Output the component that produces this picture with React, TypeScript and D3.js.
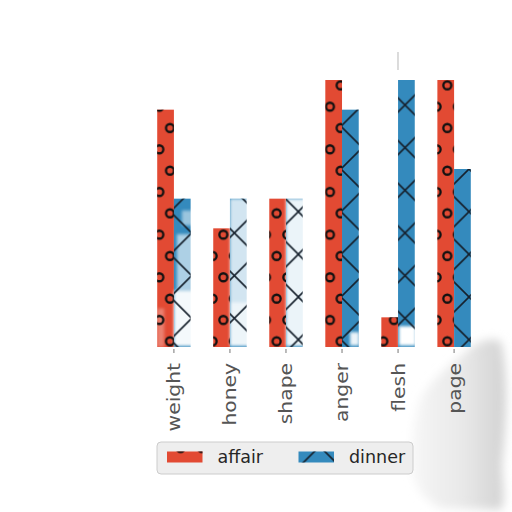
import React from "react";
import * as d3 from "d3";

const categories = ["weight", "honey", "shape", "anger", "flesh", "page"];
const seriesNames = ["affair", "dinner"];
const affairValues = [8, 4, 5, 9, 1, 9];
const dinnerValues = [5, 5, 5, 8, 9, 6];
const seriesColors = ["#E24A33", "#348ABD"];
const seriesHatch = ["hatchO", "hatchX"];

const W = 512;
const H = 512;

export default function App() {
  const x = d3.scaleBand<string>().domain(categories).range([146, 482]).paddingInner(0.4036).paddingOuter(0.2);
  const inner = d3.scaleBand<string>().domain(seriesNames).range([0, x.bandwidth()]);
  const y = d3.scaleLinear().domain([0, 9]).range([347, 80]);
  const values = [affairValues, dinnerValues];
  const unit = 21.33;

  const bars = seriesNames.flatMap((s, si) =>
    categories.map((c, ci) => ({
      key: `${s}-${c}`,
      x: (x(c) as number) + (inner(s) as number),
      w: inner.bandwidth(),
      y: y(values[si][ci]),
      h: y(0) - y(values[si][ci]),
      color: seriesColors[si],
      hatch: seriesHatch[si],
    }))
  );

  const bx = (c: string, s: string) => (x(c) as number) + (inner(s) as number);
  const bw = inner.bandwidth();

  return (
    <svg width={W} height={H} style={{ position: "absolute", left: 0, top: 0, background: "#fff" }}>
      <defs>
        <pattern id="hatchO" patternUnits="userSpaceOnUse" x={170 - unit / 4} y={128 - unit / 2} width={unit} height={unit * 2}>
          <circle cx={unit / 4} cy={unit / 2} r={4} fill="none" stroke="#111" strokeWidth={2.3} />
          <circle cx={unit * 0.75} cy={unit * 1.5} r={4} fill="none" stroke="#111" strokeWidth={2.3} />
        </pattern>
        <pattern id="hatchX" patternUnits="userSpaceOnUse" x={405 - unit} y={105 - unit} width={unit * 2} height={unit * 2}>
          <path d={`M-2,-2L${unit * 2 + 2},${unit * 2 + 2}M-2,${unit * 2 + 2}L${unit * 2 + 2},-2`} stroke="#15202c" strokeWidth={1.6} />
        </pattern>
        <filter id="blur2" x="-50%" y="-50%" width="200%" height="200%">
          <feGaussianBlur stdDeviation={1.5} />
        </filter>
        <filter id="blur8" x="-50%" y="-50%" width="200%" height="200%">
          <feGaussianBlur stdDeviation={5} />
        </filter>
        <linearGradient id="smudge" x1="0" x2="1" y1="0" y2="0">
          <stop offset="0" stopColor="#f7f7f7" />
          <stop offset="0.55" stopColor="#e8e8e8" />
          <stop offset="1" stopColor="#d2d2d2" />
        </linearGradient>
      </defs>

      {/* gray smudge right */}
      <path
        d="M468,350 C478,340 494,337 501,342 C508,370 507,420 502,465 C503,490 506,505 500,510 L440,508 C425,500 414,488 412,470 C410,440 414,420 420,400 C430,380 450,365 468,350 Z"
        fill="url(#smudge)"
        filter="url(#blur8)"
      />

      {/* bar fills */}
      {bars.map((b) => (
        <rect key={b.key + "f"} x={b.x} y={b.y} width={b.w} height={b.h} fill={b.color} />
      ))}

      {/* faded regions */}
      <g filter="url(#blur2)" fill="#fff">
        <rect x={bx("weight", "dinner")} y={y(1.9)} width={bw + 3} height={y(0) - y(1.9) - 1} opacity={0.95} />
        <rect x={bx("weight", "dinner") + 3} y={y(3.8)} width={bw} height={y(1.9) - y(3.8)} opacity={0.6} />
        <rect x={bx("weight", "dinner") + 8} y={y(4.6)} width={bw - 6} height={y(4.1) - y(4.6)} opacity={0.5} />
        <rect x={bx("honey", "dinner")} y={y(5)} width={bw + 3} height={y(0) - y(5) - 1} opacity={0.78} />
        <rect x={bx("honey", "dinner")} y={y(1.5)} width={bw + 3} height={y(0) - y(1.5) - 1} opacity={0.6} />
        <rect x={bx("shape", "dinner")} y={y(5)} width={bw + 3} height={y(0) - y(5) - 1} opacity={0.9} />
        <rect x={bx("flesh", "dinner") + 1} y={y(0.7)} width={bw} height={y(0) - y(0.7) - 1.5} opacity={1} />
        <rect x={bx("weight", "affair")} y={y(1.3)} width={7} height={y(0) - y(1.3)} opacity={0.3} />
        <rect x={bx("anger", "dinner") + 8} y={y(0.5)} width={9} height={y(0) - y(0.5) - 1.5} opacity={0.9} />
      </g>

      {/* hatch overlays */}
      {bars.map((b) => (
        <rect key={b.key + "h"} x={b.x} y={b.y} width={b.w} height={b.h} fill={`url(#${b.hatch})`} />
      ))}

      <line x1={398} x2={398} y1={52} y2={70} stroke="#c4c4c4" strokeWidth={1.2} />

      {/* ticks and labels */}
      {categories.map((c) => {
        const cx = (x(c) as number) + x.bandwidth() / 2;
        return (
          <g key={c}>
            <line x1={cx} x2={cx} y1={349} y2={353} stroke="#777" strokeWidth={1} />
            <text
              transform={`translate(${cx},363) scale(1,1.16) rotate(-90)`}
              textAnchor="end"
              dominantBaseline="central"
              fontFamily="DejaVu Sans"
              fontSize={17.5}
              fill="#555"
            >
              {c}
            </text>
          </g>
        );
      })}

      {/* legend */}
      <g>
        <rect x={157} y={442} width={256} height={32} rx={4} fill="#eeeeee" stroke="#cccccc" strokeWidth={1} />
        {seriesNames.map((s, i) => {
          const px = i === 0 ? 167 : 298.5;
          return (
            <g key={s}>
              <rect x={px} y={451.5} width={35.5} height={11} fill={seriesColors[i]} />
              <rect x={px} y={451.5} width={35.5} height={11} fill={`url(#${seriesHatch[i]})`} />
              <text x={px + 50.5} y={463} fontFamily="DejaVu Sans" fontSize={17.5} fill="#262626">
                {s}
              </text>
            </g>
          );
        })}
      </g>
    </svg>
  );
}
